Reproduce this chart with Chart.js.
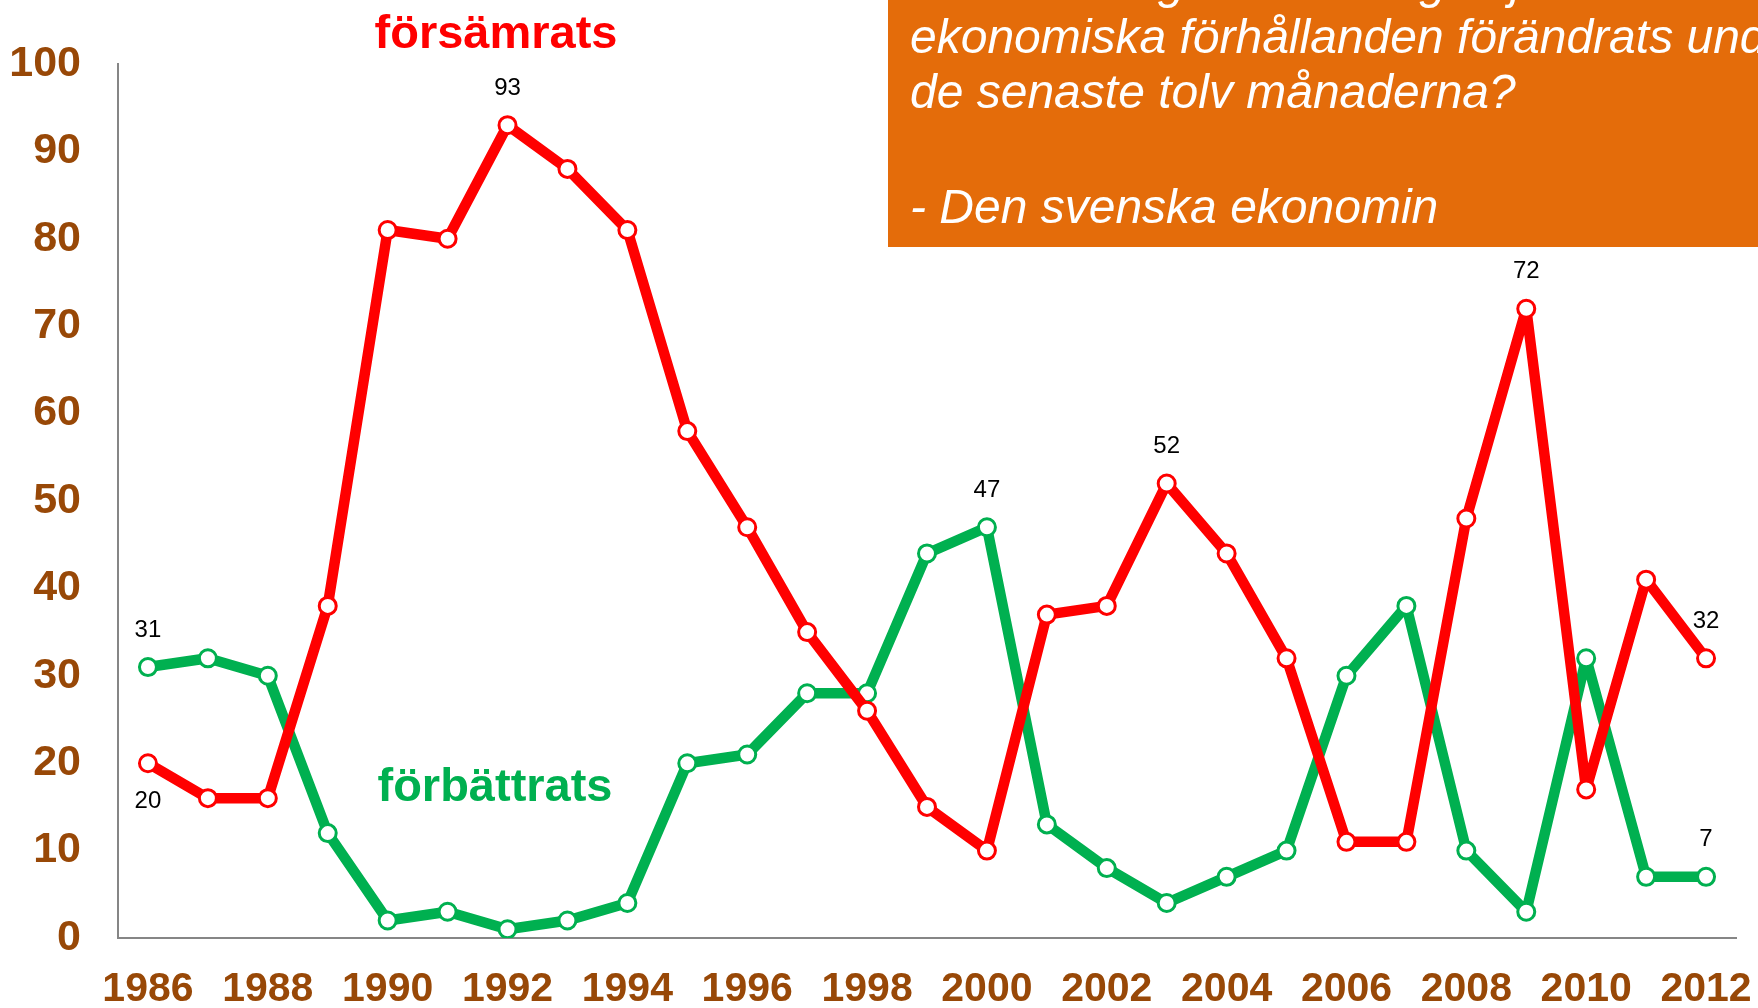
<!DOCTYPE html>
<html lang="sv">
<head>
<meta charset="utf-8">
<title>Den svenska ekonomin</title>
<script src="https://cdn.jsdelivr.net/npm/chart.js@4/dist/chart.umd.min.js"></script>
<style>
  html, body { margin: 0; padding: 0; background: #ffffff; }
  #wrap { position: relative; width: 1758px; height: 1008px; overflow: hidden; }
  canvas { display: block; }
</style>
</head>
<body>
<div id="wrap"><canvas id="c" width="1758" height="1008"></canvas></div>
<script>
const years = ['1986','1987','1988','1989','1990','1991','1992','1993','1994','1995','1996','1997','1998','1999','2000','2001','2002','2003','2004','2005','2006','2007','2008','2009','2010','2011','2012'];
const xTickLabels = ['1986','','1988','','1990','','1992','','1994','','1996','','1998','','2000','','2002','','2004','','2006','','2008','','2010','','2012'];
const forsamrats = [20,16,16,38,81,80,93,88,81,58,47,35,26,15,10,37,38,52,44,32,11,11,48,72,17,41,32];
const forbattrats = [31,32,30,12,2,3,1,2,4,20,21,28,28,44,47,13,8,4,7,10,30,38,10,3,32,7,7];
const yTicks = [0,10,20,30,40,50,60,70,80,90,100];
// indices of points that carry a value label, and where it sits
const redLabels = [{i:0,pos:'below'},{i:6,pos:'above'},{i:17,pos:'above'},{i:23,pos:'above'},{i:26,pos:'above'}];
const greenLabels = [{i:0,pos:'above'},{i:14,pos:'above'},{i:26,pos:'above'}];
const boxLines = ['Hur har enligt din mening följande','ekonomiska förhållanden förändrats under','de senaste tolv månaderna?','','- Den svenska ekonomin'];

const RED = '#FF0000', GREEN = '#00B050', BROWN = '#984807', ORANGE = '#E46C0A', AXIS = '#868686';
const FONT = '"Liberation Sans", Arial, sans-serif';

const overlay = {
  id: 'overlay',
  afterDraw(chart) {
    const ctx = chart.ctx;
    ctx.save();
    // value labels
    ctx.font = '24px ' + FONT;
    ctx.fillStyle = '#000000';
    ctx.textAlign = 'center';
    ctx.textBaseline = 'middle';
    const put = (dsIndex, list, values) => {
      const meta = chart.getDatasetMeta(dsIndex);
      list.forEach(l => {
        const el = meta.data[l.i];
        const dy = l.pos === 'above' ? -37 : 38;
        ctx.fillText(String(values[l.i]), el.x, el.y + dy);
      });
    };
    put(0, redLabels, forsamrats);
    put(1, greenLabels, forbattrats);

    // series names
    ctx.font = 'bold 47px ' + FONT;
    ctx.textBaseline = 'alphabetic';
    ctx.fillStyle = RED;
    ctx.fillText('försämrats', 496, 48);
    ctx.fillStyle = GREEN;
    ctx.fillText('förbättrats', 495, 801);

    // orange question box
    ctx.fillStyle = ORANGE;
    ctx.fillRect(888, 0, 1758 - 888, 247);
    ctx.fillStyle = '#FFFFFF';
    ctx.font = 'italic 48px ' + FONT;
    ctx.textAlign = 'left';
    const baselines = [-2, 53, 108, 166, 223];
    boxLines.forEach((t, k) => { if (t) ctx.fillText(t, 910, baselines[k]); });
    ctx.restore();
  }
};

const lineStyle = (color) => ({
  borderColor: color,
  borderWidth: 10.5,
  borderJoinStyle: 'round',
  borderCapStyle: 'round',
  pointRadius: 8.5,
  pointBorderWidth: 3,
  pointBackgroundColor: '#FFFFFF',
  pointBorderColor: color,
  tension: 0
});

new Chart(document.getElementById('c'), {
  type: 'line',
  data: {
    labels: years,
    datasets: [
      Object.assign({ label: 'försämrats', data: forsamrats }, lineStyle(RED)),
      Object.assign({ label: 'förbättrats', data: forbattrats }, lineStyle(GREEN))
    ]
  },
  options: {
    responsive: false,
    animation: false,
    devicePixelRatio: 1,
    layout: { padding: { top: 64, right: 22, left: 0, bottom: 0 } },
    plugins: { legend: { display: false }, tooltip: { enabled: false }, title: { display: false } },
    scales: {
      x: {
        type: 'category',
        offset: true,
        grid: { display: false, drawTicks: false },
        border: { display: true, color: AXIS, width: 2 },
        ticks: {
          autoSkip: false,
          maxRotation: 0,
          minRotation: 0,
          padding: 27,
          color: BROWN,
          font: { family: FONT, weight: 'bold', size: 41 },
          callback: (v, i) => xTickLabels[i]
        },
        afterFit(scale) { scale.height = 70; scale.paddingRight = 0; scale.paddingLeft = 0; }
      },
      y: {
        min: 0,
        max: 100,
        grid: { display: false, drawTicks: false },
        border: { display: true, color: AXIS, width: 2 },
        afterBuildTicks(scale) { scale.ticks = yTicks.map(v => ({ value: v })); },
        ticks: {
          padding: 37,
          color: BROWN,
          font: { family: FONT, weight: 'bold', size: 43 },
          callback: v => String(v)
        },
        afterFit(scale) { scale.width = 118; }
      }
    }
  },
  plugins: [overlay]
});
</script>
</body>
</html>
